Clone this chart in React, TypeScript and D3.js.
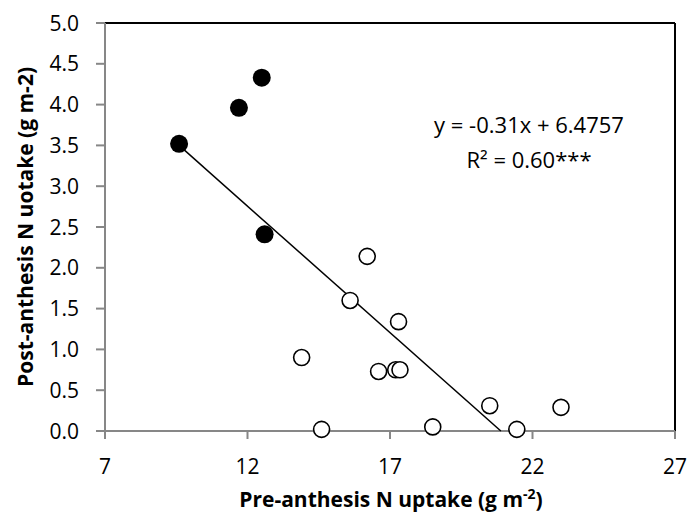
import React from "react";
import * as d3 from "d3";

const filledX = [9.6, 11.7, 12.5, 12.6];
const filledY = [3.52, 3.96, 4.33, 2.41];
const openX = [16.2, 15.6, 17.3, 13.9, 16.6, 17.2, 17.35, 20.5, 23.0, 14.6, 18.5, 21.45];
const openY = [2.14, 1.6, 1.34, 0.9, 0.73, 0.75, 0.75, 0.31, 0.29, 0.02, 0.05, 0.02];
const xTicks = [7, 12, 17, 22, 27];
const yTicks = [0, 0.5, 1, 1.5, 2, 2.5, 3, 3.5, 4, 4.5, 5];
const slope = -0.31;
const intercept = 6.4757;

const W = 692, H = 520;
const M = { left: 105, right: 675, top: 23, bottom: 431 };
const FONT = "'Open Sans', 'Liberation Sans', sans-serif";

export default function App() {
  const x = d3.scaleLinear().domain([7, 27]).range([M.left, M.right]);
  const y = d3.scaleLinear().domain([0, 5]).range([M.bottom, M.top]);
  const allX = [...filledX, ...openX];
  const x0 = d3.min(allX) as number;
  const x1 = -intercept / slope;
  const line = d3.line<number>().x((d) => x(d)).y((d) => y(slope * d + intercept));
  const gray = "#878787";
  return (
    <svg width={W} height={H} style={{ position: "absolute", left: 0, top: 0, background: "#fff" }} fontFamily={FONT}>
      <rect width={W} height={H} fill="#fff" />
      <line x1={M.left} x2={M.right} y1={M.top} y2={M.top} stroke="#000" strokeWidth={2} />
      <line x1={M.right} x2={M.right} y1={M.top} y2={M.bottom} stroke="#000" strokeWidth={2} />
      <line x1={M.left} x2={M.right} y1={M.bottom} y2={M.bottom} stroke={gray} strokeWidth={2} />
      <line x1={M.left} x2={M.left} y1={M.top} y2={M.bottom} stroke={gray} strokeWidth={2} />
      {yTicks.map((t) => (
        <g key={"y" + t}>
          <line x1={M.left - 9} x2={M.left} y1={y(t)} y2={y(t)} stroke={gray} strokeWidth={2} />
          <text x={79} y={y(t)} dy="0.36em" textAnchor="end" fontSize={21} fill="#000">
            {t.toFixed(1)}
          </text>
        </g>
      ))}
      {xTicks.map((t) => (
        <g key={"x" + t}>
          <line x1={x(t)} x2={x(t)} y1={M.bottom} y2={M.bottom + 8} stroke={gray} strokeWidth={2} />
          <text x={x(t)} y={474} textAnchor="middle" fontSize={21} fill="#000">
            {t}
          </text>
        </g>
      ))}
      <path d={line([x0, x1]) || ""} stroke="#000" strokeWidth={1.5} fill="none" />
      {openX.map((v, i) => (
        <circle key={"o" + i} cx={x(v)} cy={y(openY[i])} r={8} fill="#fff" stroke="#000" strokeWidth={1.6} />
      ))}
      {filledX.map((v, i) => (
        <circle key={"f" + i} cx={x(v)} cy={y(filledY[i])} r={9} fill="#000" />
      ))}
      <text x={529} y={133} textAnchor="middle" fontSize={22} fill="#000">
        y = -0.31x + 6.4757
      </text>
      <text x={529} y={168} textAnchor="middle" fontSize={22} fill="#000">
        R² = 0.60***
      </text>
      <text x={391} y={507} textAnchor="middle" fontSize={21} fontWeight="bold" fill="#000">
        Pre-anthesis N uptake (g m<tspan dy={-8} fontSize={14}>-2</tspan><tspan dy={8}>)</tspan>
      </text>
      <text transform={`translate(33,${(M.top + M.bottom) / 2}) rotate(-90)`} textAnchor="middle" fontSize={21} fontWeight="bold" fill="#000">
        Post-anthesis N uotake (g m-2)
      </text>
    </svg>
  );
}
